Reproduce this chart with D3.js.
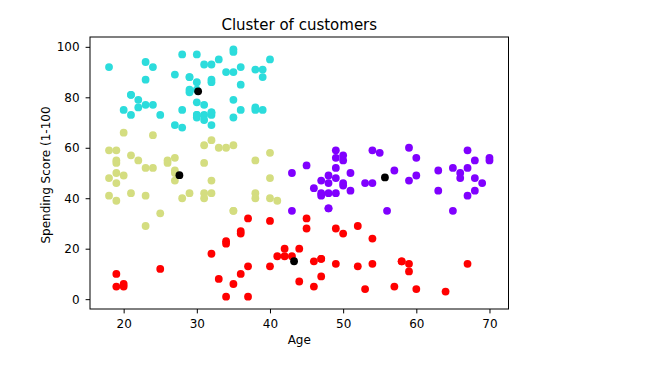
<!DOCTYPE html>
<html>
<head>
<meta charset="utf-8">
<script src="https://cdn.jsdelivr.net/npm/d3@7"></script>
<style>
  body { margin: 0; background: #fff; }
  text { font-family: "DejaVu Sans", sans-serif; fill: #000; }
</style>
</head>
<body>
<div id="chart"></div>
<script>
// [age, spending score] per cluster
const clusterPurple = [[65,35],[48,36],[50,55],[49,52],[59,60],[50,45],[47,41],[51,50],[69,46],[53,46],[70,56],[67,52],[54,59],[63,51],[43,50],[68,48],[70,55],[47,42],[60,49],[60,56],[59,47],[45,53],[49,42],[57,51],[67,41],[46,44],[48,46],[55,58],[50,46],[68,55],[48,49],[47,47],[48,42],[49,48],[67,59],[49,56],[66,50],[54,46],[68,43],[66,48],[65,52],[63,43],[49,59],[51,43],[50,57],[43,35],[48,36],[56,35]];
const clusterCyan = [[21,81],[23,77],[22,76],[23,94],[30,72],[35,99],[24,77],[22,79],[35,98],[25,73],[31,73],[29,82],[23,87],[21,73],[18,92],[21,81],[30,73],[20,75],[24,92],[39,91],[31,77],[40,95],[38,75],[39,75],[31,71],[29,88],[32,73],[35,72],[32,93],[32,87],[28,97],[32,74],[34,90],[39,88],[38,76],[27,89],[30,78],[30,73],[29,83],[31,93],[36,75],[33,95],[28,75],[36,92],[30,86],[27,69],[35,90],[32,86],[29,88],[30,97],[28,68],[36,85],[32,69],[38,91],[35,79],[32,74],[30,83]];
const clusterYellow = [[19,39],[31,40],[35,35],[20,66],[35,35],[35,61],[31,61],[24,65],[27,47],[29,42],[31,42],[33,60],[31,54],[27,51],[19,55],[18,59],[19,59],[32,47],[26,54],[40,48],[23,52],[38,55],[21,57],[22,55],[34,60],[18,41],[40,40],[32,42],[24,52],[27,50],[20,49],[23,41],[26,55],[21,42],[19,54],[38,42],[19,46],[18,48],[19,50],[27,56],[38,40],[40,58],[23,29],[25,34],[28,40],[32,63],[41,39]];
const clusterRed = [[20,6],[35,6],[64,3],[67,14],[58,15],[37,13],[52,29],[46,5],[54,14],[45,32],[40,31],[60,4],[53,4],[49,14],[42,17],[36,26],[49,28],[59,11],[47,9],[20,5],[44,7],[19,10],[57,5],[25,12],[34,22],[43,17],[44,20],[47,16],[37,1],[34,1],[19,5],[50,26],[42,20],[36,27],[40,13],[36,10],[52,13],[58,15],[59,14],[37,32],[46,15],[54,24],[41,17],[34,23],[33,8],[47,16],[45,28],[32,18]];
const centroids = [[55.71,48.23],[30.18,82.35],[27.62,49.15],[43.29,15.02]];

const xTicks = [20, 30, 40, 50, 60, 70];
const yTicks = [0, 20, 40, 60, 80, 100];

const clusters = [
    { pts: clusterPurple, color: "#8000ff" },
    { pts: clusterCyan, color: "#2cdcdc" },
    { pts: clusterYellow, color: "#d4dd80" },
    { pts: clusterRed, color: "#ff0000" }
];

const width = 660, height = 373;
const m = { left: 90, right: 508.5, top: 37, bottom: 309 };

const svg = d3.select("#chart").append("svg")
    .attr("width", width)
    .attr("height", height);

const x = d3.scaleLinear().domain([15.4, 72.6]).range([m.left, m.right]);
const y = d3.scaleLinear().domain([-3.9, 103.9]).range([m.bottom, m.top]);

const dots = svg.append("g");
clusters.forEach(c => {
    dots.selectAll(null)
        .data(c.pts)
        .join("circle")
        .attr("cx", d => x(d[0]))
        .attr("cy", d => y(d[1]))
        .attr("r", 3.9)
        .attr("fill", c.color);
});

dots.selectAll(null)
    .data(centroids)
    .join("circle")
    .attr("cx", d => x(d[0]))
    .attr("cy", d => y(d[1]))
    .attr("r", 3.9)
    .attr("fill", "#000");

// frame
svg.append("rect")
    .attr("x", m.left)
    .attr("y", m.top)
    .attr("width", m.right - m.left)
    .attr("height", m.bottom - m.top)
    .attr("fill", "none")
    .attr("stroke", "#000")
    .attr("stroke-width", 1);

const xAxis = svg.append("g")
    .attr("transform", `translate(0,${m.bottom})`)
    .call(d3.axisBottom(x).tickValues(xTicks).tickSize(4.4).tickPadding(6.2));
const yAxis = svg.append("g")
    .attr("transform", `translate(${m.left},0)`)
    .call(d3.axisLeft(y).tickValues(yTicks).tickSize(4.4).tickPadding(6));

[xAxis, yAxis].forEach(g => {
    g.select(".domain").remove();
    g.selectAll(".tick line").attr("stroke", "#000");
    g.selectAll(".tick text")
        .attr("font-family", "DejaVu Sans")
        .attr("font-size", 12)
        .attr("fill", "#000");
});

svg.append("text")
    .attr("x", (m.left + m.right) / 2)
    .attr("y", 29.5)
    .attr("text-anchor", "middle")
    .attr("font-size", 15)
    .text("Cluster of customers");

svg.append("text")
    .attr("x", (m.left + m.right) / 2)
    .attr("y", 344)
    .attr("text-anchor", "middle")
    .attr("font-size", 12)
    .text("Age");

svg.append("text")
    .attr("transform", `translate(49.5,${(m.top + m.bottom) / 2 + 2}) rotate(-90)`)
    .attr("text-anchor", "middle")
    .attr("font-size", 12)
    .text("Spending Score (1-100");
</script>
</body>
</html>
